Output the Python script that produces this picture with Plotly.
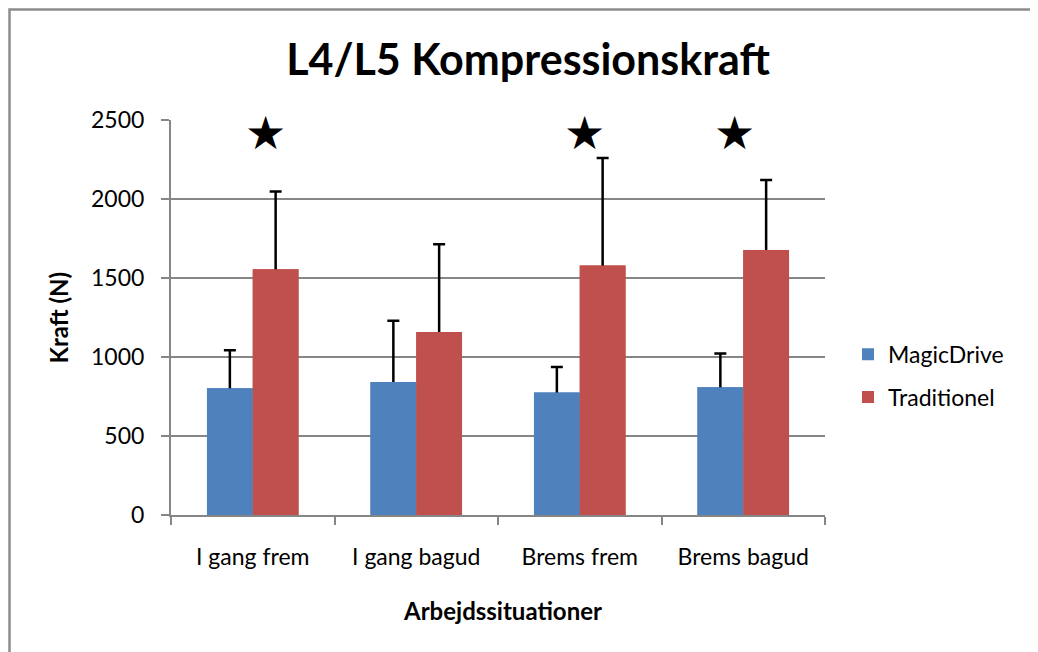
import plotly.graph_objects as go

# data
categories = ["I gang frem", "I gang bagud", "Brems frem", "Brems bagud"]
magicdrive = [802, 842, 775, 809]
magicdrive_sd = [241, 387, 162, 213]
traditionel = [1556, 1159, 1579, 1678]
traditionel_sd = [492, 555, 680, 442]
significant = ["I gang frem", "Brems frem", "Brems bagud"]
star_level = 2420
star_shift = [13, 5, -9]

FONT = "Lato, 'Open Sans', sans-serif"
GRID = "#868686"
BLUE, RED = "#4F81BD", "#C0504D"

# page body adds an 8px offset, so the figure is laid out 8px up/left
W, H = 1030, 644
L, T, PW, PH = 163, 112, 654, 394.7


def px(x):
    # reference pixel x -> paper x
    return (x - 8 - L) / PW


def py(y):
    # reference pixel y -> paper y
    return (T + PH - (y - 8)) / PH


fig = go.Figure()
for name, vals, sd, col, grp in [("MagicDrive", magicdrive, magicdrive_sd, BLUE, "a"),
                                 ("Traditionel", traditionel, traditionel_sd, RED, "b")]:
    fig.add_trace(go.Bar(
        x=categories, y=vals, name=name, legendgroup=grp,
        marker=dict(color=col, line=dict(width=0)),
        error_y=dict(type="data", array=sd, color="black", thickness=2.5, width=6),
    ))
# same bars again on an overlaid axis so only the upper error whisker shows
for name, vals, col, grp in [("MagicDrive", magicdrive, BLUE, "a"),
                             ("Traditionel", traditionel, RED, "b")]:
    fig.add_trace(go.Bar(
        x=categories, y=vals, name=name, legendgroup=grp, showlegend=False,
        marker=dict(color=col, line=dict(width=0)), xaxis="x2",
        hoverinfo="skip",
    ))

# significance stars
for cat, dx in zip(significant, star_shift):
    fig.add_annotation(x=cat, y=star_level, text="★", showarrow=False,
                       xshift=dx, xanchor="center", yanchor="middle",
                       font=dict(size=46, color="black", family="DejaVu Sans"))

# axis titles as annotations for exact placement
fig.add_annotation(text="<b>Kraft (N)</b>", xref="paper", yref="paper",
                   x=px(58), y=0.5, xanchor="center", yanchor="middle",
                   textangle=-90, showarrow=False,
                   font=dict(size=24, family=FONT, color="black"))
fig.add_annotation(text="<b>Arbejdssituationer</b>", xref="paper", yref="paper",
                   x=px(502.5), y=py(610), xanchor="center", yanchor="middle",
                   showarrow=False,
                   font=dict(size=24, family=FONT, color="black"))

# outer chart frame
fig.add_shape(type="rect", xref="paper", yref="paper",
              x0=px(9.5), x1=px(1036),
              y0=py(680), y1=py(9.5),
              line=dict(color="#8c8c8c", width=2.5), layer="below")

fig.update_layout(
    width=W, height=H,
    margin=dict(l=L, r=W - L - PW, t=T, b=H - T - PH),
    paper_bgcolor="white", plot_bgcolor="white",
    barmode="group", bargap=0.44, bargroupgap=0,
    font=dict(family=FONT, size=23, color="black"),
    title=dict(text="<b>L4/L5 Kompressionskraft</b>",
               x=(528 - 8) / W, xanchor="center",
               y=1 - (60 - 8) / H, yanchor="middle",
               font=dict(size=43, family=FONT, color="black")),
    legend=dict(x=px(848), y=py(375.5), xanchor="left", yanchor="middle",
                font=dict(size=23), tracegroupgap=10,
                bgcolor="rgba(0,0,0,0)"),
    showlegend=True,
    xaxis2=dict(overlaying="x", matches="x", type="category", visible=False),
)
fig.update_xaxes(
    type="category", showgrid=False, showline=True, linecolor=GRID, linewidth=2,
    ticks="outside", tickson="boundaries", ticklen=8, tickcolor=GRID, tickwidth=2,
    tickfont=dict(size=23), ticklabelstandoff=20, zeroline=False,
    selector=dict(anchor="y"), overwrite=False,
)
fig.layout.xaxis.update(type="category", showgrid=False, showline=True,
                        linecolor=GRID, linewidth=2, ticks="outside",
                        tickson="boundaries", ticklen=8, tickcolor=GRID,
                        tickwidth=2, tickfont=dict(size=23),
                        ticklabelstandoff=20, zeroline=False)
fig.update_yaxes(
    range=[0, 2500], dtick=500, showgrid=True, gridcolor=GRID, gridwidth=1.6,
    showline=True, linecolor=GRID, linewidth=2, ticks="outside", ticklen=8,
    tickcolor=GRID, tickwidth=2, tickfont=dict(size=23), ticklabelstandoff=12,
    zeroline=False,
)

fig.write_html("out.html")
